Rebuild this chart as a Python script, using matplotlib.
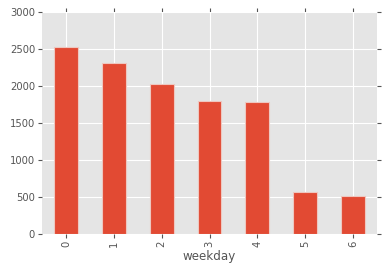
import pandas as pd
import matplotlib
matplotlib.use('Agg')
import matplotlib.pyplot as plt

plt.style.use('ggplot')

# counts per weekday
weekday = [0, 1, 2, 3, 4, 5, 6]
counts = [2530, 2318, 2032, 1793, 1790, 563, 518]

df = pd.DataFrame({'weekday': weekday, 'count': counts}).set_index('weekday')

fig, ax = plt.subplots(figsize=(3.82, 2.74), dpi=100)
fig.subplots_adjust(left=0.11, right=0.987, top=0.956, bottom=0.146)

df['count'].plot(kind='bar', ax=ax, color='#E24A33', edgecolor='#EEC7C0', linewidth=0.8)
ax.set_ylim(0, 3000)
ax.set_xlabel('weekday', fontsize=8.6, color='#555555', labelpad=2)
ax.tick_params(axis='both', labelsize=7.2, colors='#555555', direction='out', length=3,
               top=True, right=True, pad=2)
ax.tick_params(axis='x', labelcolor='#555555')
ax.grid(True, color='white', linewidth=0.8)
ax.set_axisbelow(True)
for s in ax.spines.values():
    s.set_visible(False)

plt.savefig('out.png', dpi=100)
